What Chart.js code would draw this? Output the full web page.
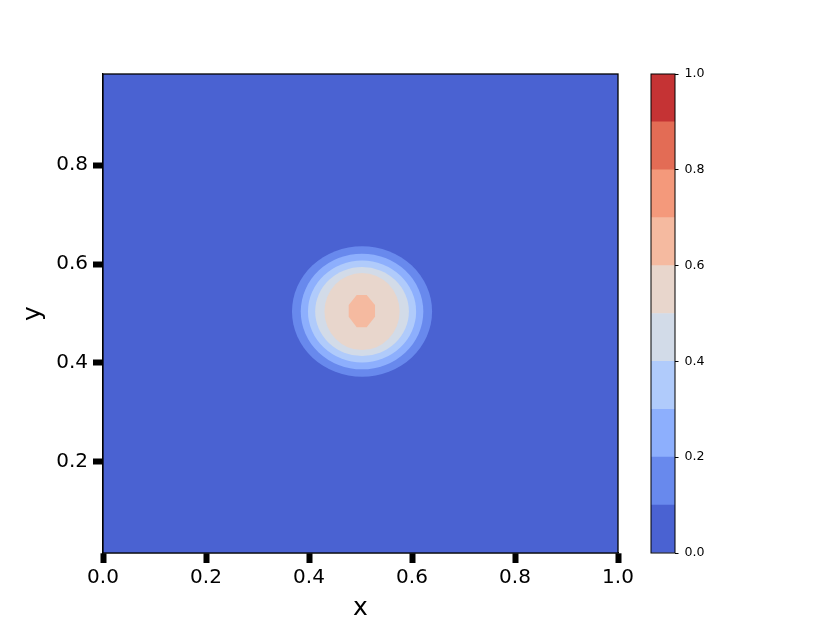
<!DOCTYPE html>
<html>
<head>
<meta charset="utf-8">
<script src="https://cdn.jsdelivr.net/npm/chart.js@4.4.0/dist/chart.umd.min.js"></script>
<style>
html, body { margin: 0; padding: 0; background: #fff; }
#wrap { position: relative; width: 830px; height: 623px; }
canvas { position: absolute; left: 0; top: 0; }
</style>
</head>
<body>
<div id="wrap">
  <canvas id="field" width="830" height="623"></canvas>
  <canvas id="cbar" width="830" height="623"></canvas>
</div>
<script>
// contour levels and the coolwarm colour of each band
var levels = [0.0, 0.1, 0.2, 0.3, 0.4, 0.5, 0.6, 0.7, 0.8, 0.9, 1.0];
var bandColors = ['#4a62d2', '#6889ed', '#8daffd', '#b0cbfb', '#d2dbe8',
                  '#e8d6cc', '#f5baa0', '#f4997b', '#e36c55', '#c53334'];

// blob centre and outline radii of each filled level
var blobCenter = [0.503, 0.504];
var ringRadiusX = [0.136, 0.119, 0.105, 0.091, 0.073];   // levels 0.1 .. 0.5
var ringRadiusY = [0.132, 0.117, 0.103, 0.090, 0.078];

// innermost patch (0.6 - 0.7)
var peakX = [0.4926, 0.5120, 0.5282, 0.5282, 0.5120, 0.4926, 0.4771, 0.4771];
var peakY = [0.5374, 0.5374, 0.5172, 0.4935, 0.4721, 0.4721, 0.4935, 0.5172];

var xRange = [0, 1];
var yRange = [0.015625, 0.984375];
var xTicks = [0.0, 0.2, 0.4, 0.6, 0.8, 1.0];
var yTicks = [0.2, 0.4, 0.6, 0.8];
var cbTicks = [0.0, 0.2, 0.4, 0.6, 0.8, 1.0];

Chart.defaults.font.family = 'DejaVu Sans';
Chart.defaults.color = '#000';

function fixTicks(list) {
    return function(scale) {
        scale.ticks = list.map(function(v) { return { value: v }; });
    };
}
function oneDecimal(v) { return Number(v).toFixed(1); }

var contourPlugin = {
    id: 'contour',
    beforeDatasetsDraw: function(chart) {
        var ctx = chart.ctx, a = chart.chartArea;
        var sx = chart.scales.x, sy = chart.scales.y;
        ctx.save();
        ctx.beginPath();
        ctx.rect(a.left, a.top, a.right - a.left, a.bottom - a.top);
        ctx.clip();
        ctx.fillStyle = bandColors[0];
        ctx.fillRect(a.left, a.top, a.right - a.left, a.bottom - a.top);

        var cx = sx.getPixelForValue(blobCenter[0]);
        var cy = sy.getPixelForValue(blobCenter[1]);
        for (var i = 0; i < ringRadiusX.length; i++) {
            var rx = sx.getPixelForValue(blobCenter[0] + ringRadiusX[i]) - cx;
            var ry = cy - sy.getPixelForValue(blobCenter[1] + ringRadiusY[i]);
            ctx.fillStyle = bandColors[i + 1];
            ctx.beginPath();
            ctx.ellipse(cx, cy, rx, ry, 0, 0, Math.PI * 2);
            ctx.fill();
        }

        ctx.fillStyle = bandColors[ringRadiusX.length + 1];
        ctx.beginPath();
        for (var j = 0; j < peakX.length; j++) {
            var px = sx.getPixelForValue(peakX[j]), py = sy.getPixelForValue(peakY[j]);
            if (j === 0) ctx.moveTo(px, py); else ctx.lineTo(px, py);
        }
        ctx.closePath();
        ctx.fill();
        ctx.restore();
    },
    afterDraw: function(chart) {
        var ctx = chart.ctx, a = chart.chartArea;
        ctx.save();
        ctx.strokeStyle = '#000';
        ctx.lineWidth = 1.3;
        ctx.strokeRect(a.left, a.top, a.right - a.left, a.bottom - a.top);
        ctx.restore();
    }
};

new Chart(document.getElementById('field'), {
    type: 'scatter',
    data: { datasets: [] },
    options: {
        responsive: false,
        devicePixelRatio: 1,
        animation: false,
        events: [],
        layout: { padding: { left: 0, top: 74, right: 212, bottom: 0 } },
        plugins: { legend: { display: false }, tooltip: { enabled: false } },
        scales: {
            x: {
                type: 'linear', min: xRange[0], max: xRange[1],
                afterBuildTicks: fixTicks(xTicks),
                afterFit: function(s) { s.height = 70; },
                ticks: { callback: oneDecimal, font: { size: 20 }, padding: 3, maxRotation: 0, autoSkip: false },
                grid: { drawOnChartArea: false, drawTicks: true, tickLength: 10, tickWidth: 6, tickColor: '#000' },
                border: { display: true, color: '#000', width: 1.3 },
                title: { display: true, text: 'x', font: { size: 25 }, padding: { top: 0, bottom: 0 } }
            },
            y: {
                type: 'linear', min: yRange[0], max: yRange[1],
                afterBuildTicks: fixTicks(yTicks),
                afterFit: function(s) { s.width = 103; },
                ticks: { callback: oneDecimal, font: { size: 20 }, padding: 5, autoSkip: false },
                grid: { drawOnChartArea: false, drawTicks: true, tickLength: 10, tickWidth: 6, tickColor: '#000' },
                border: { display: true, color: '#000', width: 1.3 },
                title: { display: true, text: 'y', font: { size: 25 }, padding: { top: 18, bottom: 0 } }
            }
        }
    },
    plugins: [contourPlugin]
});

// colour bar: one floating bar per level band
var cbDatasets = bandColors.map(function(c, i) {
    return {
        data: [[levels[i], levels[i + 1]]],
        backgroundColor: c,
        borderWidth: 0,
        barPercentage: 1,
        categoryPercentage: 1
    };
});

var cbFrame = {
    id: 'cbFrame',
    afterDraw: function(chart) {
        var ctx = chart.ctx, a = chart.chartArea;
        ctx.save();
        ctx.strokeStyle = '#000';
        ctx.lineWidth = 1;
        ctx.strokeRect(a.left, a.top, a.right - a.left, a.bottom - a.top);
        ctx.restore();
    }
};

new Chart(document.getElementById('cbar'), {
    type: 'bar',
    data: { labels: ['cb'], datasets: cbDatasets },
    options: {
        responsive: false,
        devicePixelRatio: 1,
        animation: false,
        events: [],
        layout: { padding: { left: 651, top: 74, right: 0, bottom: 70 } },
        plugins: { legend: { display: false }, tooltip: { enabled: false } },
        scales: {
            x: { display: false, stacked: true },
            y: {
                position: 'right', min: 0, max: 1,
                afterBuildTicks: fixTicks(cbTicks),
                afterFit: function(s) { s.width = 155; },
                ticks: { callback: oneDecimal, font: { size: 12.6 }, padding: 6, autoSkip: false },
                grid: { drawOnChartArea: false, drawTicks: true, tickLength: 3.5, tickWidth: 1, tickColor: '#000' },
                border: { display: false }
            }
        }
    },
    plugins: [cbFrame]
});
</script>
</body>
</html>
